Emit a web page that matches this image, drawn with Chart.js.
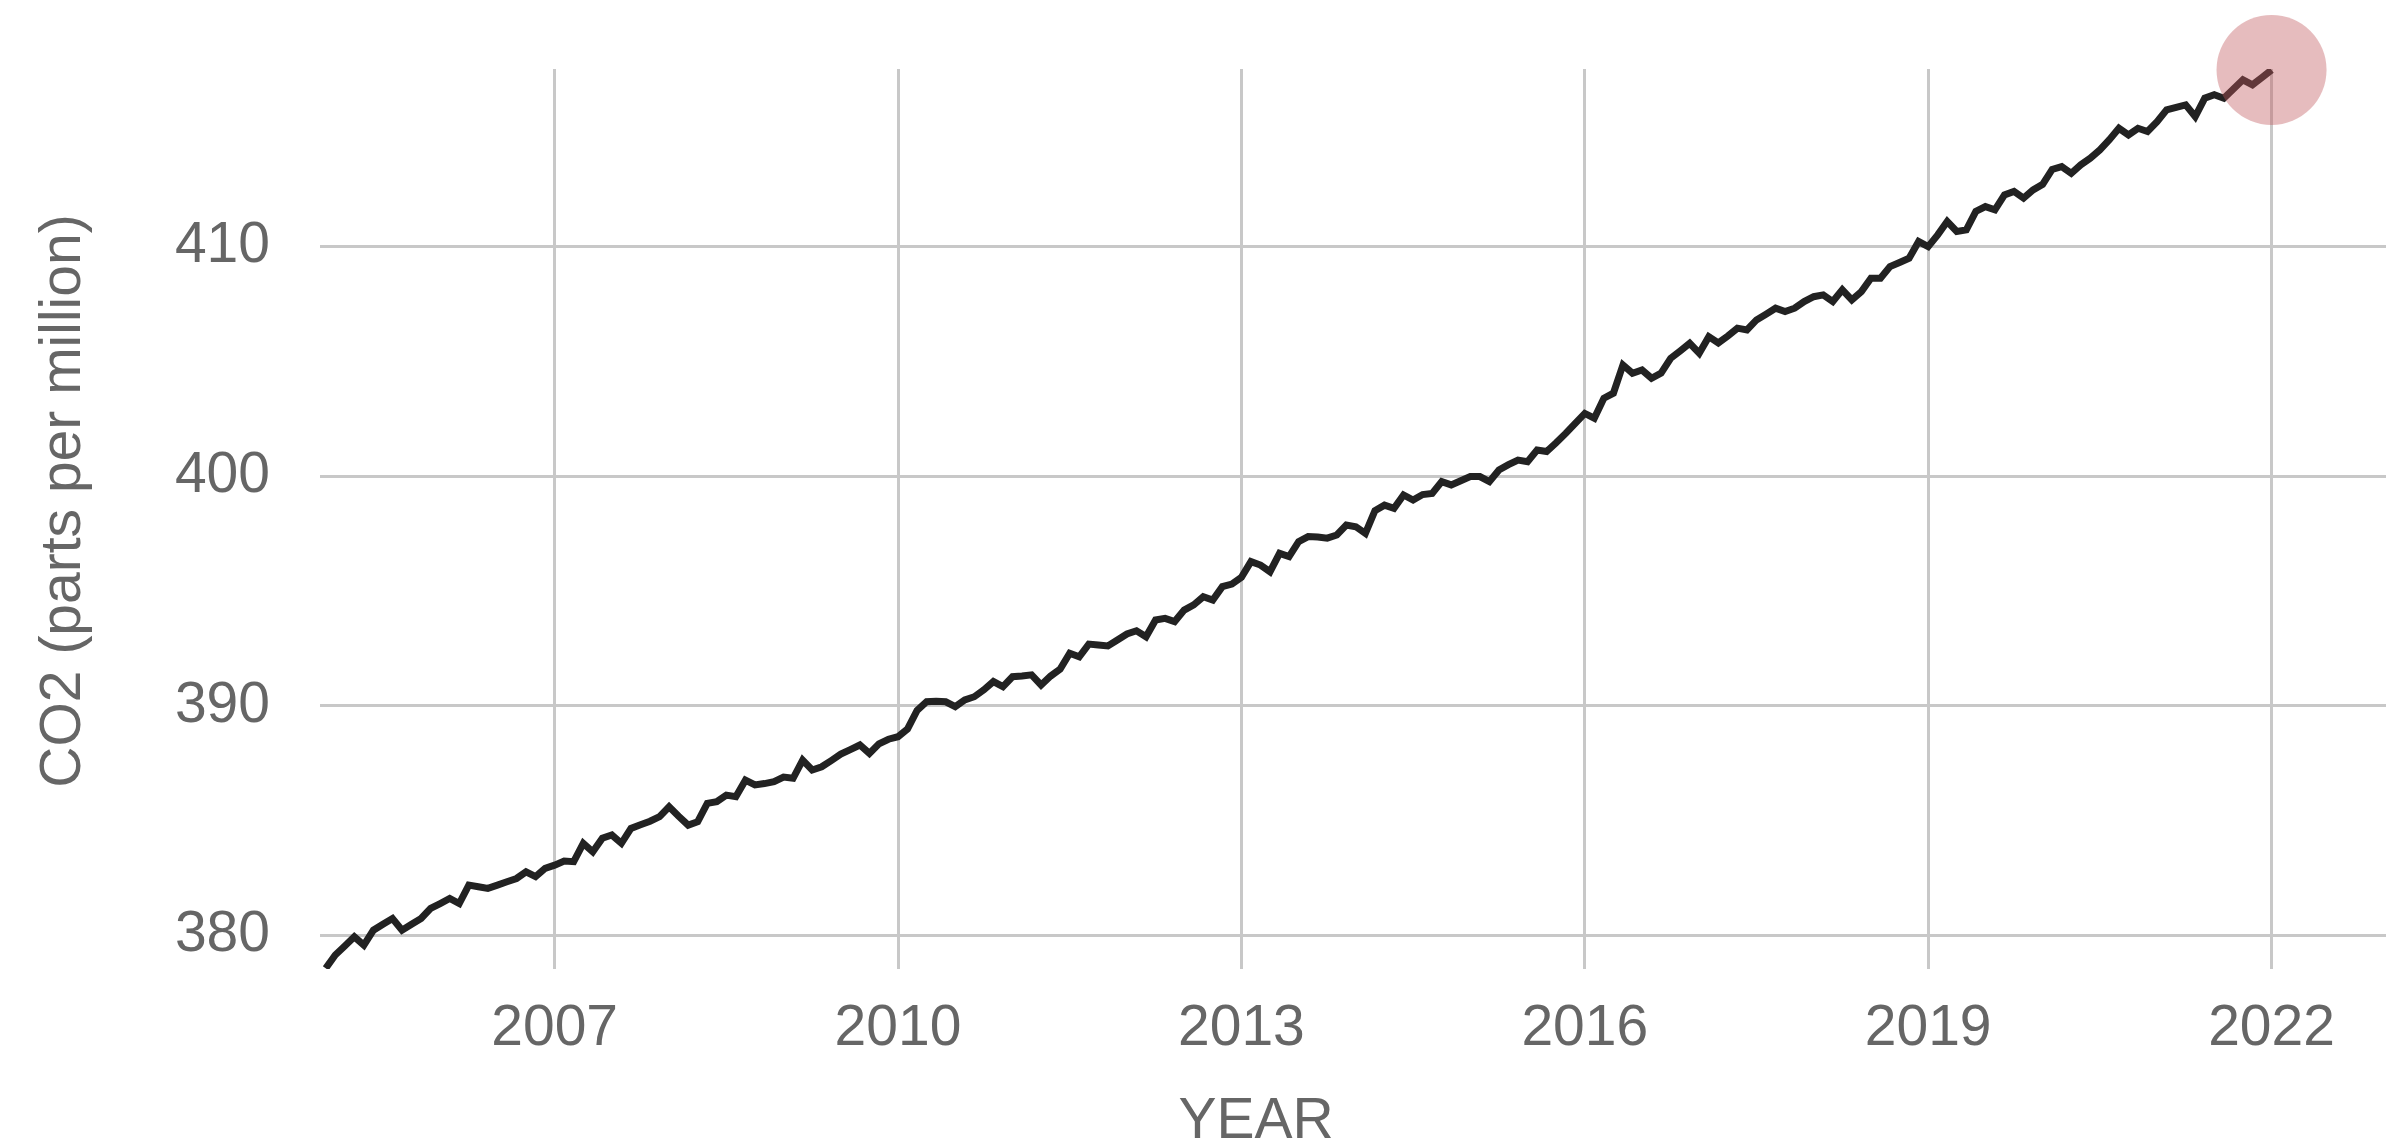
<!DOCTYPE html>
<html>
<head>
<meta charset="utf-8">
<script src="https://cdn.jsdelivr.net/npm/chart.js@4/dist/chart.umd.min.js"></script>
<style>
  html, body { margin: 0; padding: 0; background: #fff; }
</style>
</head>
<body>
<canvas id="co2Chart" width="2401" height="1147"></canvas>
<script>
// monthly CO2 readings, Jan 2005 .. Jan 2022
const startYear = 2005;
const co2 = [
  378.58, 379.16, 379.55, 379.95, 379.59, 380.24, 380.50, 380.75, 380.24, 380.50, 380.75, 381.19,
  381.40, 381.62, 381.40, 382.20, 382.13, 382.06, 382.20, 382.35, 382.49, 382.78, 382.57, 382.93,
  383.07, 383.25, 383.22, 384.02, 383.65, 384.24, 384.38, 384.02, 384.67, 384.83, 384.98, 385.18,
  385.61, 385.20, 384.81, 384.96, 385.76, 385.83, 386.12, 386.05, 386.77, 386.56, 386.62, 386.70,
  386.90, 386.85, 387.64, 387.21, 387.35, 387.62, 387.90, 388.10, 388.30, 387.93, 388.35, 388.55,
  388.66, 389.00, 389.80, 390.18, 390.20, 390.18, 389.97, 390.26, 390.40, 390.70, 391.06, 390.84,
  391.27, 391.30, 391.35, 390.91, 391.30, 391.60, 392.29, 392.14, 392.69, 392.65, 392.61, 392.87,
  393.13, 393.27, 393.01, 393.74, 393.81, 393.67, 394.17, 394.40, 394.75, 394.61, 395.19, 395.30,
  395.60, 396.28, 396.13, 395.84, 396.64, 396.50, 397.15, 397.37, 397.35, 397.30, 397.44, 397.87,
  397.80, 397.51, 398.50, 398.74, 398.60, 399.18, 398.96, 399.20, 399.25, 399.76, 399.62, 399.80,
  399.98, 399.98, 399.76, 400.27, 400.50, 400.70, 400.63, 401.14, 401.07, 401.45, 401.86, 402.30,
  402.73, 402.52, 403.39, 403.61, 404.84, 404.48, 404.62, 404.26, 404.48, 405.13, 405.45, 405.78,
  405.35, 406.07, 405.80, 406.10, 406.44, 406.36, 406.80, 407.05, 407.31, 407.16, 407.31, 407.60,
  407.81, 407.89, 407.60, 408.11, 407.67, 408.03, 408.61, 408.61, 409.12, 409.30, 409.48, 410.21,
  409.99, 410.50, 411.08, 410.65, 410.72, 411.52, 411.73, 411.59, 412.24, 412.39, 412.10, 412.46,
  412.70, 413.35, 413.47, 413.18, 413.55, 413.84, 414.20, 414.64, 415.14, 414.85, 415.14, 415.00,
  415.43, 415.94, 416.05, 416.16, 415.65, 416.45, 416.60, 416.45, 416.85, 417.25, 417.03, 417.35,
  417.68
];
const xTicks = [2007, 2010, 2013, 2016, 2019, 2022];
const yTicks = [380, 390, 400, 410];
const xTitle = 'YEAR';
const yTitle = 'CO2 (parts per million)';

const textColor = '#666';
const gridColor = '#c8c8c8';
const fontFamily = '"Liberation Sans", Arial, Helvetica, sans-serif';

const points = co2.map((v, i) => ({ x: startYear + i / 12, y: v }));
const lastPoint = points[points.length - 1];

// axis titles sit a bit off the plot centre in the original, so draw them here
const titlesPlugin = {
  id: 'axisTitles',
  afterDraw(chart) {
    const ctx = chart.ctx;
    const area = chart.chartArea;
    ctx.save();
    ctx.font = '57px ' + fontFamily;
    ctx.fillStyle = textColor;
    ctx.textAlign = 'center';
    ctx.textBaseline = 'middle';
    ctx.fillText(xTitle, (area.left + area.right) / 2 - 97, 1122);
    ctx.translate(64, (area.top + area.bottom) / 2 - 18);
    ctx.rotate(-Math.PI / 2);
    ctx.fillText(yTitle, 0, 0);
    ctx.restore();
  }
};

const ctx = document.getElementById('co2Chart').getContext('2d');
const co2Chart = new Chart(ctx, {
  type: 'line',
  data: {
    datasets: [{
      // highlight on the latest reading
      type: 'scatter',
      data: [lastPoint],
      pointRadius: 55,
      pointHoverRadius: 55,
      backgroundColor: 'rgba(192, 88, 92, 0.4)',
      borderWidth: 0,
      clip: false,
      order: 0
    }, {
      label: 'CO2',
      data: points,
      borderColor: '#222',
      borderWidth: 7,
      pointRadius: 0,
      tension: 0,
      fill: false,
      order: 1
    }]
  },
  options: {
    responsive: false,
    animation: false,
    devicePixelRatio: 1,
    layout: { autoPadding: false, padding: { top: 69, right: 15, left: 0, bottom: 0 } },
    plugins: {
      legend: { display: false },
      tooltip: { enabled: false }
    },
    scales: {
      x: {
        type: 'linear',
        min: 2004.95,
        max: 2023,
        afterBuildTicks: s => { s.ticks = xTicks.map(v => ({ value: v })); },
        afterFit: s => { s.height = 178; },
        grid: { color: gridColor, lineWidth: 3, drawTicks: false },
        border: { display: false },
        ticks: {
          color: textColor,
          font: { family: fontFamily, size: 57 },
          padding: 26,
          maxRotation: 0,
          callback: v => String(v)
        }
      },
      y: {
        min: 378.55,
        max: 417.72,
        afterBuildTicks: s => { s.ticks = yTicks.map(v => ({ value: v })); },
        afterFit: s => {
          s.width = 320;
          s.paddingTop = 0;
          s.paddingBottom = 0;
        },
        grid: { color: gridColor, lineWidth: 3, drawTicks: false },
        border: { display: false },
        ticks: {
          color: textColor,
          font: { family: fontFamily, size: 57 },
          padding: 50,
          callback: v => String(v)
        }
      }
    }
  },
  plugins: [titlesPlugin]
});
</script>
</body>
</html>
